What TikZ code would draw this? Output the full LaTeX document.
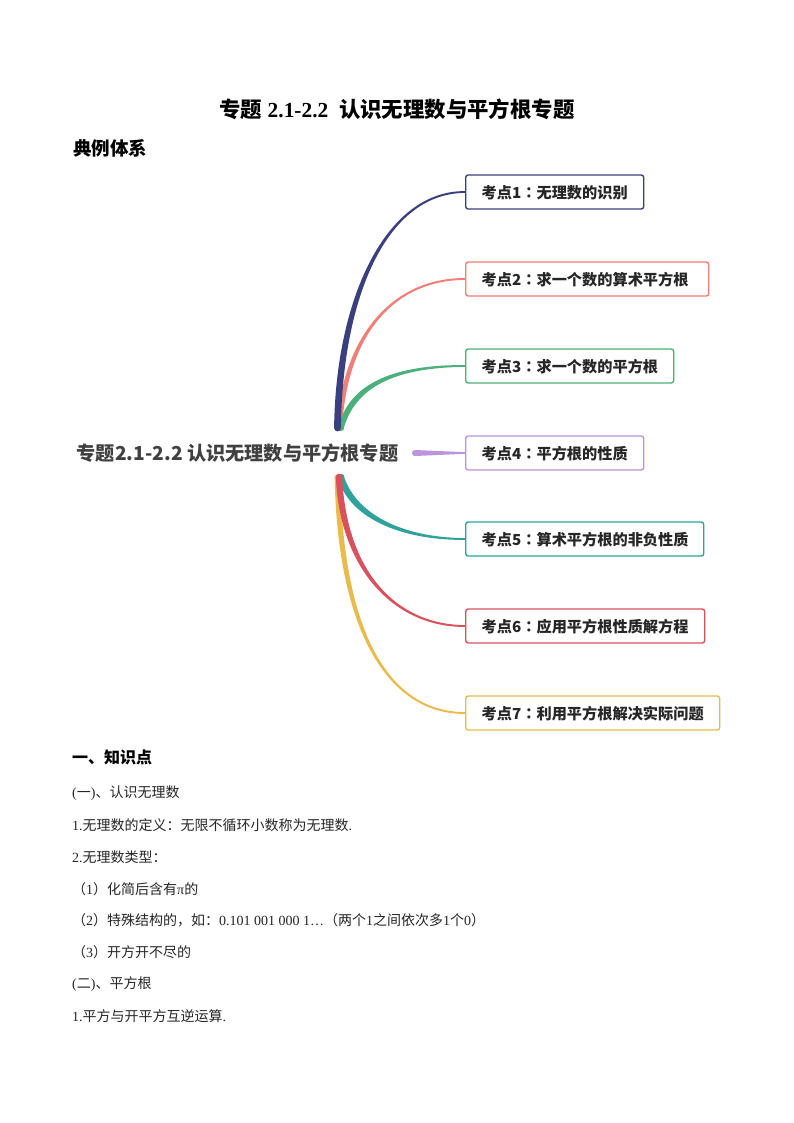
\documentclass[tikz,border=0pt]{standalone}
\usepackage{fontspec}
\usepackage{amsmath}
\setmainfont{Liberation Serif}
\newfontfamily\cjk{Noto Sans CJK SC}
\newfontfamily\cjktc{Noto Sans CJK TC}
\newcommand{\cn}[1]{{\cjk #1}}
\newcommand{\cl}{{\cjktc ：}}
\usetikzlibrary{calc}
\definecolor{navyline}{HTML}{3B3F7E}
\definecolor{salmonline}{HTML}{EF7F78}
\definecolor{greenline}{HTML}{4CAF7C}
\definecolor{purpleline}{HTML}{BC94DC}
\definecolor{tealline}{HTML}{2FA39B}
\definecolor{redline}{HTML}{D9505F}
\definecolor{yellowline}{HTML}{E9BB4D}
\tikzset{
  topicbox/.style={draw=#1,line width=1.4pt,rounded corners=2.5pt,fill=white,anchor=west,
    minimum height=34pt,inner xsep=16pt,inner ysep=0pt,text=black!85,align=left,
    text height=15pt,text depth=1.6pt,
    font=\cjk\bfseries\fontsize{15.2}{16}\selectfont},
  bodyline/.style={anchor=west,inner sep=0pt,text=black!85,font=\fontsize{14}{16}\selectfont},
  headline/.style={anchor=west,inner sep=0pt,font=\cjk\bfseries\fontsize{#1}{20}\selectfont}
}
% tapered branch: [half width at start], colour, start, first control, second control, target node, side at the end
\newcommand{\branch}[7][-3.4,0]{%
  \fill[#2] ($(#3)+(#1)$) .. controls ($(#4)+(#1)$) and ($(#5)+(0,#7*1.4)$) .. ($(#6.west)+(0,#7*.9)$)
    -- ($(#6.west)-(0,#7*.9)$) .. controls ($(#5)-(0,#7*1.4)$) and ($(#4)-(#1)$) .. ($(#3)-(#1)$) -- cycle;
}
\begin{document}
\begin{tikzpicture}[x=1pt,y=-1pt]
  \useasboundingbox[fill=white] (0,0) rectangle (794,1123);

  \node[anchor=center,inner sep=0pt,font=\bfseries\fontsize{21.4}{24}\selectfont] (title) at (397,109)
    {\cn{专题} 2.1-2.2\ \ \cn{认识无理数与平方根专题}};
  \node[headline=18.5] (system) at (73,148.5) {典例体系};

  \node[anchor=west,inner sep=0pt,text=black!75,font=\cjk\bfseries\fontsize{19.2}{22}\selectfont] (root) at (76.5,453.5)
    {专题2.1-2.2 认识无理数与平方根专题};

  \foreach \name/\y/\wid/\col/\txt in {
    a/192/146/navyline/考点1\cl 无理数的识别,
    b/279/211/salmonline/考点2\cl 求一个数的算术平方根,
    c/366/176/greenline/考点3\cl 求一个数的平方根,
    d/453/146/purpleline/考点4\cl 平方根的性质,
    e/539/206/tealline/考点5\cl 算术平方根的非负性质,
    f/626/207/redline/考点6\cl 应用平方根性质解方程,
    g/713/222/yellowline/考点7\cl 利用平方根解决实际问题}
    \node[topicbox=\col,text width=\wid pt] (\name) at (465,\y) {\txt};

  \coordinate (rootup) at (337.5,428);
  \coordinate (rootmid) at (339.5,428);
  \coordinate (rootlow) at (339,477);
  \coordinate (rootright) at (415,453);

  \branch[-2.6,0]{salmonline}{rootmid}{344,340}{390,279}{b}{-1}
  \fill[salmonline] (rootmid) circle (2.6);
  \branch[-2.2,-2.2]{greenline}{341,428}{352,385}{395,366}{c}{-1}
  \fill[greenline] (341,428) circle (3);
  \branch[-3.4,0]{navyline}{rootup}{339,300}{385,192}{a}{-1}
  \fill[navyline] (rootup) circle (3.4);
  \fill[purpleline] ($(rootright)+(0,-3)$) -- ($(d.west)+(0,-.8)$) -- ($(d.west)+(0,.8)$) -- ($(rootright)+(0,3)$) -- cycle;
  \fill[purpleline] (rootright) circle (3);

  \branch[-2.8,0]{yellowline}{337.5,477}{340,625}{385,713}{g}{1}
  \fill[yellowline] (337.5,477) circle (2.8);
  \branch[-2.4,2.4]{tealline}{341,477}{352,515}{400,539}{e}{1}
  \fill[tealline] (341,477) circle (3.2);
  \branch[-3.2,0]{redline}{rootlow}{343,570}{395,626}{f}{1}
  \fill[redline] (rootlow) circle (3.2);

  \node[headline=16] (know) at (72,757) {一、知识点};
  \node[bodyline] (l1) at (72,793.5) {(\cn{一})\cn{、认识无理数}};
  \node[bodyline] (l2) at (72,825.5) {1.\cn{无理数的定义：无限不循环小数称为无理数}.};
  \node[bodyline] (l3) at (72,857.5) {2.\cn{无理数类型：}};
  \node[bodyline] (l4) at (72,889.5) {\cn{（}1\cn{）化简后含有}π\cn{的}};
  \node[bodyline] (l5) at (72,920.5) {\cn{（}2\cn{）特殊结构的，如：}0.101 001 000 1…\cn{（两个}1\cn{之间依次多}1\cn{个}0\cn{）}};
  \node[bodyline] (l6) at (72,952.5) {\cn{（}3\cn{）开方开不尽的}};
  \node[bodyline] (l7) at (72,984.5) {(\cn{二})\cn{、平方根}};
  \node[bodyline] (l8) at (72,1016.5) {1.\cn{平方与开平方互逆运算}.};
\end{tikzpicture}
\end{document}
